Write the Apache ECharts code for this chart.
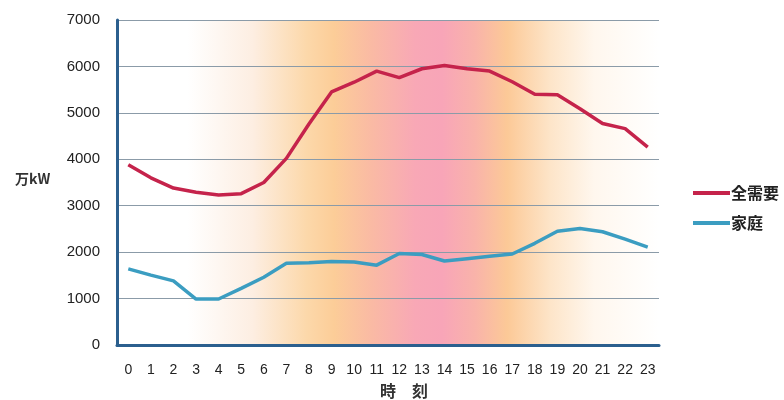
<!DOCTYPE html>
<html>
<head>
<meta charset="utf-8">
<script src="https://cdn.jsdelivr.net/npm/echarts@6/dist/echarts.min.js"></script>
<style>
  html, body { margin: 0; padding: 0; background: #ffffff; }
  #chart { width: 784px; height: 400px; }
</style>
</head>
<body>
<div id="chart"></div>
<script>
// Hourly electricity demand (万kW): total vs. households
const hours = ['0','1','2','3','4','5','6','7','8','9','10','11','12','13','14','15','16','17','18','19','20','21','22','23'];
const totalDemand = [3880, 3600, 3380, 3290, 3230, 3260, 3500, 4020, 4760, 5450, 5660, 5900, 5760, 5950, 6020, 5950, 5900, 5670, 5400, 5390, 5090, 4770, 4660, 4260];
const householdDemand = [1640, 1505, 1380, 990, 990, 1220, 1460, 1760, 1770, 1800, 1790, 1720, 1970, 1950, 1810, 1860, 1910, 1960, 2190, 2450, 2510, 2440, 2280, 2110];
const yTicks = { min: 0, max: 7000, interval: 1000 };

const numFont = "'Liberation Sans', Arial, sans-serif";
const cjkFont = "'Noto Sans CJK JP', 'Noto Sans', sans-serif";

// daytime peak band shading behind the plot
const daytimeBand = {
  type: 'linear', x: 0, y: 0, x2: 1, y2: 0,
  colorStops: [
    { offset: 0.00, color: '#ffffff' },
    { offset: 0.13, color: '#ffffff' },
    { offset: 0.25, color: '#fdeee2' },
    { offset: 0.35, color: '#fcd8aa' },
    { offset: 0.40, color: '#fccd98' },
    { offset: 0.47, color: '#fabaa4' },
    { offset: 0.55, color: '#f8a8b6' },
    { offset: 0.60, color: '#f8a5b8' },
    { offset: 0.66, color: '#f9b3aa' },
    { offset: 0.72, color: '#fcc997' },
    { offset: 0.80, color: '#fde5c9' },
    { offset: 0.88, color: '#fff7ee' },
    { offset: 1.00, color: '#ffffff' }
  ]
};

const chart = echarts.init(document.getElementById('chart'), null, { renderer: 'canvas' });
chart.setOption({
  animation: false,
  backgroundColor: '#ffffff',
  grid: {
    left: 117, right: 125, top: 20, bottom: 55,
    show: true, borderWidth: 0,
    backgroundColor: daytimeBand
  },
  legend: {
    orient: 'vertical',
    left: 688, top: 175,
    itemWidth: 37, itemHeight: 4, itemGap: 4,
    icon: 'rect',
    textStyle: {
      fontFamily: cjkFont, fontSize: 16, fontWeight: 'bold', color: '#222',
      lineHeight: 18, padding: [0, 0, 8, -4]
    },
    data: ['全需要', '家庭']
  },
  xAxis: {
    type: 'category',
    data: hours,
    boundaryGap: true,
    axisLine: { show: true, lineStyle: { color: '#2b5f8e', width: 3 } },
    axisTick: { show: false },
    axisLabel: { interval: 0, margin: 18, fontFamily: numFont, fontSize: 14, color: '#222' },
    splitLine: { show: false }
  },
  yAxis: {
    type: 'value',
    min: yTicks.min, max: yTicks.max, interval: yTicks.interval,
    axisLine: { show: true, lineStyle: { color: '#2b5f8e', width: 3 } },
    axisTick: { show: false },
    axisLabel: {
      margin: 17, fontFamily: numFont, fontSize: 15, color: '#222',
      formatter: (v) => String(v)
    },
    splitLine: { show: true, lineStyle: { color: '#8b9ba8', width: 1 } }
  },
  graphic: [
    {
      type: 'text', left: 15, top: 172,
      style: { text: '万kW', fontFamily: cjkFont, fontSize: 14, fontWeight: 'bold', fill: '#333' }
    },
    {
      type: 'text', left: 380, top: 383,
      style: { text: '時　刻', fontFamily: cjkFont, fontSize: 16, fontWeight: 'bold', fill: '#333' }
    }
  ],
  series: [
    {
      name: '全需要', type: 'line', data: totalDemand,
      showSymbol: false, symbol: 'none',
      lineStyle: { color: '#c5234b', width: 3.5 },
      itemStyle: { color: '#c5234b' },
      z: 3
    },
    {
      name: '家庭', type: 'line', data: householdDemand,
      showSymbol: false, symbol: 'none',
      lineStyle: { color: '#3b9dc1', width: 3.5 },
      itemStyle: { color: '#3b9dc1' },
      z: 3
    }
  ]
});
</script>
</body>
</html>
